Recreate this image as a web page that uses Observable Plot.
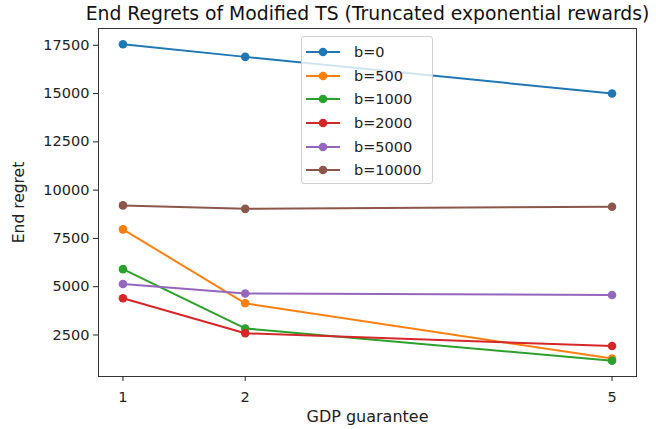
<!DOCTYPE html>
<html>
<head>
<meta charset="utf-8">
<script src="https://cdn.jsdelivr.net/npm/d3@7"></script>
<script src="https://cdn.jsdelivr.net/npm/@observablehq/plot@0.6"></script>
<style>
  html, body { margin: 0; padding: 0; background: #fff; }
  #wrap { position: relative; width: 656px; height: 429px; font-family: "DejaVu Sans", sans-serif; }
  #legend { position: absolute; left: 301px; top: 36px; width: 132px; height: 148px;
    background: rgba(255,255,255,0.8); border: 1px solid #d0d0d0; border-radius: 3px; box-sizing: border-box;
    padding-top: 3px; }
  .item { display: flex; align-items: center; height: 23.7px; font-size: 14.5px; color: #222; }
  .item svg { margin-left: 3px; margin-right: 13px; }
</style>
</head>
<body>
<div id="wrap"></div>
<script>
const title = "End Regrets of Modified TS (Truncated exponential rewards)";
const xLabel = "GDP guarantee";
const yLabel = "End regret";
const guarantees = [1, 2, 5];
const seriesNames = ["b=0", "b=500", "b=1000", "b=2000", "b=5000", "b=10000"];
const b0 = [17550, 16900, 15000];
const b500 = [7970, 4140, 1280];
const b1000 = [5910, 2840, 1170];
const b2000 = [4400, 2590, 1930];
const b5000 = [5140, 4650, 4570];
const b10000 = [9210, 9030, 9140];
const yTicks = [2500, 5000, 7500, 10000, 12500, 15000, 17500];
const colors = ["#1f77b4", "#ff7f0e", "#2ca02c", "#d62728", "#9467bd", "#8c564b"];

const seriesValues = [b0, b500, b1000, b2000, b5000, b10000];
const rows = [];
seriesNames.forEach((name, i) => {
  seriesValues[i].forEach((v, j) => rows.push({series: name, x: guarantees[j], y: v}));
});

const allY = rows.map(d => d.y);
const yMin = d3.min(allY), yMax = d3.max(allY);
const ySpan = yMax - yMin;
const xMin = d3.min(guarantees), xMax = d3.max(guarantees);
const xSpan = xMax - xMin;

const marks = [];
seriesNames.forEach((name, i) => {
  const data = rows.filter(d => d.series === name);
  marks.push(Plot.line(data, {x: "x", y: "y", stroke: colors[i], strokeWidth: 2}));
  marks.push(Plot.dot(data, {x: "x", y: "y", fill: colors[i], r: 4.3}));
});

const chart = Plot.plot({
  width: 656,
  height: 429,
  marginLeft: 98,
  marginRight: 20,
  marginTop: 28,
  marginBottom: 53,
  style: {fontFamily: "DejaVu Sans, sans-serif", fontSize: "14.5px", color: "#222", background: "#fff"},
  x: {domain: [xMin - 0.05 * xSpan, xMax + 0.05 * xSpan]},
  y: {domain: [yMin - 0.05 * ySpan, yMax + 0.05 * ySpan]},
  marks: [
    ...marks,
    Plot.frame({stroke: "#333", strokeWidth: 1}),
    Plot.axisX({ticks: guarantees, tickSize: 5, tickPadding: 10, tickFormat: d => String(d), label: null, fontSize: 14.5}),
    Plot.axisX({ticks: [], label: xLabel, labelAnchor: "center", labelArrow: "none", labelOffset: 45, fontSize: 16}),
    Plot.axisY({ticks: yTicks, tickSize: 5, tickPadding: 4, tickFormat: d => String(d), label: null, fontSize: 14.5}),
    Plot.axisY({ticks: [], label: yLabel, labelAnchor: "center", labelArrow: "none", labelOffset: 86, fontSize: 15.5}),
    Plot.text([title], {frameAnchor: "top", lineAnchor: "middle", dy: -15, fontSize: 18.8, fill: "#111", text: d => d})
  ]
});

const wrap = document.getElementById("wrap");
wrap.appendChild(chart);

const legend = document.createElement("div");
legend.id = "legend";
seriesNames.forEach((name, i) => {
  const item = document.createElement("div");
  item.className = "item";
  item.innerHTML = `<svg width="36" height="12"><line x1="1" y1="6" x2="35" y2="6" stroke="${colors[i]}" stroke-width="2"/><circle cx="18" cy="6" r="4.3" fill="${colors[i]}"/></svg><span>${name}</span>`;
  legend.appendChild(item);
});
wrap.appendChild(legend);
</script>
</body>
</html>
